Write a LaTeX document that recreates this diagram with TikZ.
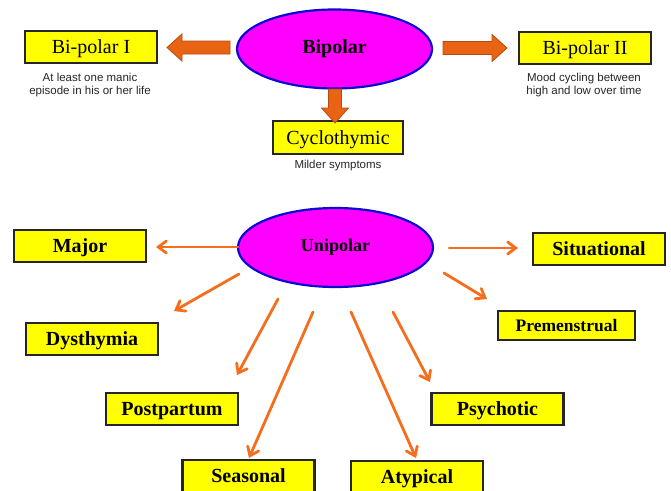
\documentclass[tikz,border=0pt]{standalone}
\usepackage{fontspec}
\setmainfont{Liberation Serif}
\newfontfamily\notefont{Liberation Sans}
\usetikzlibrary{shapes.geometric,arrows.meta}
\definecolor{boxyellow}{RGB}{255,255,0}
\definecolor{ellmag}{RGB}{255,0,255}
\definecolor{ellblue}{RGB}{10,10,210}
\definecolor{fatorange}{RGB}{232,100,20}
\definecolor{fatedge}{RGB}{185,75,15}
\definecolor{thinorange}{RGB}{245,110,30}
\begin{document}
\begin{tikzpicture}[x=1pt,y=-1pt,
 box/.style={draw=black!85,line width=2.5pt,fill=boxyellow,minimum width=132pt,minimum height=32pt,inner sep=0pt,text height=13pt,text depth=0pt,font=\fontsize{20}{22}\selectfont},
 bbox/.style={box,font=\fontsize{20}{22}\selectfont\bfseries},
 ell/.style={ellipse,draw=ellblue,line width=2.2pt,fill=ellmag,minimum width=195pt,minimum height=79pt,inner sep=0pt},
 note/.style={font=\notefont\fontsize{11.5}{13}\selectfont,align=center,text=black!85,inner sep=0pt},
 thinarrow/.style={draw=thinorange,line width=2.8pt,line cap=round,-{Straight Barb[length=8pt,width=12pt,line cap=round]}},
 fat/.style={fill=fatorange,draw=fatedge,line width=0.8pt,line join=miter},
 fatarrow/.pic={\path[fat] (0,-6.5) -- (#1-15,-6.5) -- (#1-15,-13.5) -- (#1,0) -- (#1-15,13.5) -- (#1-15,6.5) -- (0,6.5) -- cycle;}]
\useasboundingbox[fill=white] (0,0) rectangle (671,490);

% ---- Bipolar part ----
\node[ell,font=\fontsize{20}{22}\selectfont\bfseries] (bip) at (334.5,49) {Bipolar};
\node[box] (b1) at (91,47) {Bi-polar I};
\node[box] (b2) at (585,48) {Bi-polar II};
\node[box,minimum width=130pt,minimum height=33pt] (cyc) at (338,137.5) {Cyclothymic};

\node[note] (n1) at (90,85.5) {At least one manic\\episode in his or her life};
\node[note] (n2) at (584,85.5) {Mood cycling between\\high and low over time};
\node[note] (n3) at (338,166) {Milder symptoms};

\pic[rotate=180] at (230,47.5) {fatarrow=63};
\pic at (443,48) {fatarrow=64};
\pic[rotate=-90] at (335,89) {fatarrow=34};

% ---- Unipolar part ----
\node[ell,font=\fontsize{18}{20}\selectfont\bfseries] (uni) at (335.5,247.5) {Unipolar};
\node[bbox] (major) at (80,246) {Major};
\node[bbox] (dys) at (92,339) {Dysthymia};
\node[bbox] (post) at (172,409) {Postpartum};
\node[bbox] (seas) at (248.5,476) {Seasonal};
\node[bbox] (sit) at (599,249) {Situational};
\node[bbox,minimum width=137pt,minimum height=29pt,text height=11.5pt,font=\fontsize{17.5}{19}\selectfont\bfseries] (pre) at (566.5,325.5) {Premenstrual};
\node[bbox] (psy) at (497.5,409) {Psychotic};
\node[bbox] (aty) at (417,477) {Atypical};

\coordinate (ma0) at (238,247);  \coordinate (ma1) at (156,247);
\coordinate (dy0) at (239,274);  \coordinate (dy1) at (174,311);
\coordinate (po0) at (278,299);  \coordinate (po1) at (237,375);
\coordinate (se0) at (313,312);  \coordinate (se1) at (249,458);
\coordinate (si0) at (449,248);  \coordinate (si1) at (518,248);
\coordinate (pr0) at (444,273);  \coordinate (pr1) at (487,299);
\coordinate (ps0) at (393,312);  \coordinate (ps1) at (430,382);
\coordinate (at0) at (351,312);  \coordinate (at1) at (416,458);

\draw[thinarrow] (ma0) -- (ma1);
\draw[thinarrow] (dy0) -- (dy1);
\draw[thinarrow] (po0) -- (po1);
\draw[thinarrow] (se0) -- (se1);
\draw[thinarrow] (si0) -- (si1);
\draw[thinarrow] (pr0) -- (pr1);
\draw[thinarrow] (ps0) -- (ps1);
\draw[thinarrow] (at0) -- (at1);
\end{tikzpicture}
\end{document}
